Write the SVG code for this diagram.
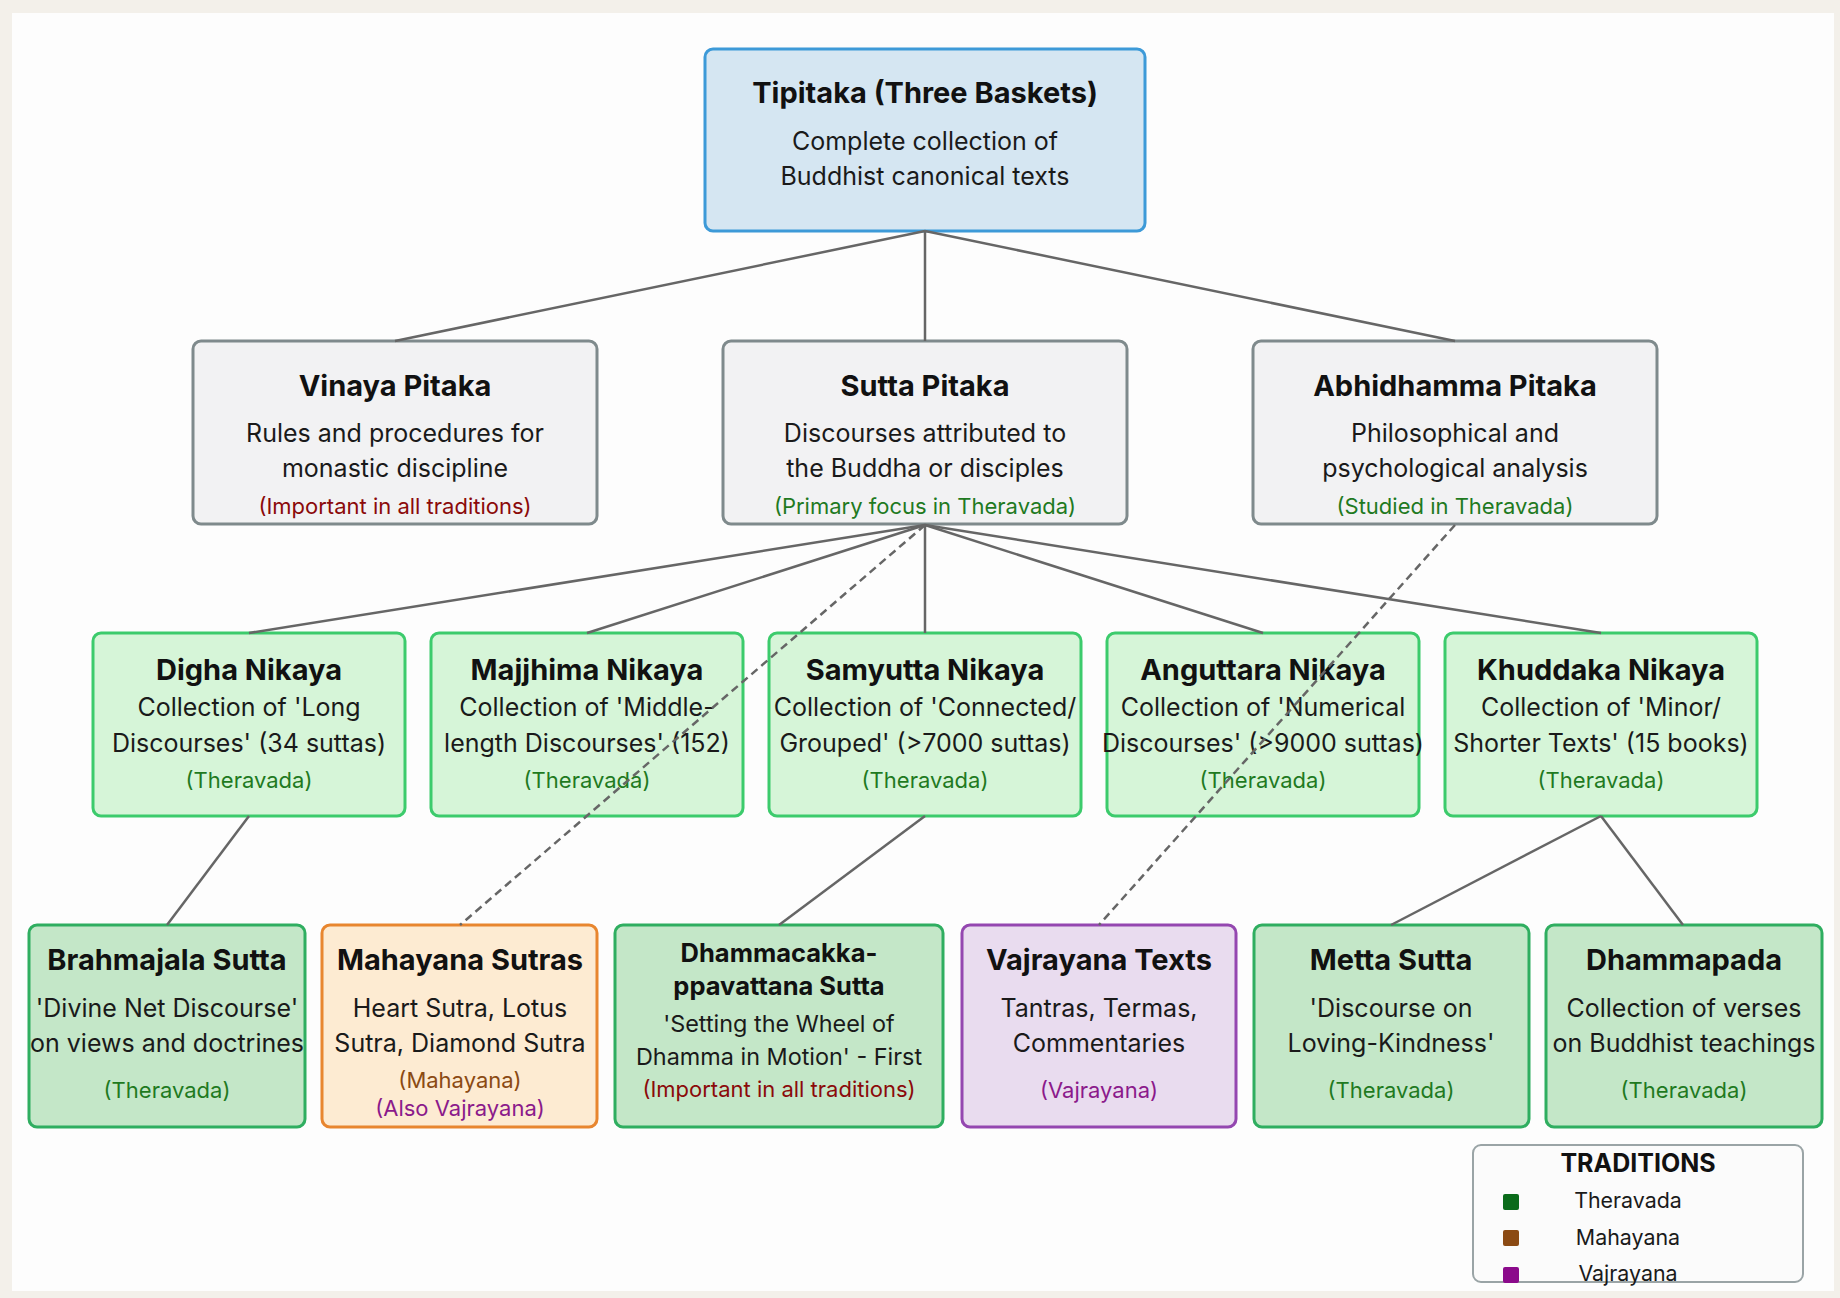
<svg xmlns="http://www.w3.org/2000/svg" width="1840" height="1298" viewBox="0 0 1840 1298">
<style>
text{font-family:Inter,"Noto Sans","Liberation Sans",sans-serif;text-anchor:middle}
.t{font-weight:700;font-size:29px;fill:#111}
.b{font-size:25px;fill:#1a1a1a}
.n{font-size:22px}
.t2{font-weight:700;font-size:25.5px;fill:#111}
.b2{font-size:23.4px;fill:#1a1a1a}
.th{fill:#1f7a1f}
.imp{fill:#8b0a0a}
.ma{fill:#8b4a13}
.va{fill:#8b1a8b}
.root{fill:#d5e6f2;stroke:#3d9ad8;stroke-width:3}
.pit{fill:#f2f2f3;stroke:#7f8a8c;stroke-width:3}
.nik{fill:#d6f5d8;stroke:#3ccb6c;stroke-width:3}
.leaf{fill:#c4e7c8;stroke:#2fae60;stroke-width:3}
.mah{fill:#fdebd2;stroke:#e8862f;stroke-width:3}
.vaj{fill:#e9dcef;stroke:#9447b0;stroke-width:3}
.c{stroke:#666;stroke-width:2.5;fill:none}
.d{stroke:#666;stroke-width:2.5;fill:none;stroke-dasharray:8 5}
</style>
<rect x="0" y="0" width="1840" height="1298" fill="#f3f0ea"/>
<rect x="12" y="13" width="1822" height="1278" fill="#fdfdfd"/>
<g id="tipitaka">
<rect class="root" x="705" y="49" width="440" height="182" rx="8"/>
<text class="t" x="925" y="103">Tipitaka (Three Baskets)</text>
<text class="b" x="925" y="150">Complete collection of</text>
<text class="b" x="925" y="185">Buddhist canonical texts</text>
</g>
<g id="vinaya">
<rect class="pit" x="193" y="341" width="404" height="183" rx="8"/>
<text class="t" x="395" y="396">Vinaya Pitaka</text>
<text class="b" x="395" y="442">Rules and procedures for</text>
<text class="b" x="395" y="477">monastic discipline</text>
<text class="n imp" x="395" y="514">(Important in all traditions)</text>
</g>
<g id="sutta">
<rect class="pit" x="723" y="341" width="404" height="183" rx="8"/>
<text class="t" x="925" y="396">Sutta Pitaka</text>
<text class="b" x="925" y="442">Discourses attributed to</text>
<text class="b" x="925" y="477">the Buddha or disciples</text>
<text class="n th" x="925" y="514">(Primary focus in Theravada)</text>
</g>
<g id="abhidhamma">
<rect class="pit" x="1253" y="341" width="404" height="183" rx="8"/>
<text class="t" x="1455" y="396">Abhidhamma Pitaka</text>
<text class="b" x="1455" y="442">Philosophical and</text>
<text class="b" x="1455" y="477">psychological analysis</text>
<text class="n th" x="1455" y="514">(Studied in Theravada)</text>
</g>
<g id="digha">
<rect class="nik" x="93" y="633" width="312" height="183" rx="8"/>
<text class="t" x="249" y="680">Digha Nikaya</text>
<text class="b" x="249" y="716">Collection of 'Long</text>
<text class="b" x="249" y="752">Discourses' (34 suttas)</text>
<text class="n th" x="249" y="788">(Theravada)</text>
</g>
<g id="majjhima">
<rect class="nik" x="431" y="633" width="312" height="183" rx="8"/>
<text class="t" x="587" y="680">Majjhima Nikaya</text>
<text class="b" x="587" y="716">Collection of 'Middle-</text>
<text class="b" x="587" y="752">length Discourses' (152)</text>
<text class="n th" x="587" y="788">(Theravada)</text>
</g>
<g id="samyutta">
<rect class="nik" x="769" y="633" width="312" height="183" rx="8"/>
<text class="t" x="925" y="680">Samyutta Nikaya</text>
<text class="b" x="925" y="716">Collection of 'Connected/</text>
<text class="b" x="925" y="752">Grouped' (&gt;7000 suttas)</text>
<text class="n th" x="925" y="788">(Theravada)</text>
</g>
<g id="anguttara">
<rect class="nik" x="1107" y="633" width="312" height="183" rx="8"/>
<text class="t" x="1263" y="680">Anguttara Nikaya</text>
<text class="b" x="1263" y="716">Collection of 'Numerical</text>
<text class="b" x="1263" y="752">Discourses' (&gt;9000 suttas)</text>
<text class="n th" x="1263" y="788">(Theravada)</text>
</g>
<g id="khuddaka">
<rect class="nik" x="1445" y="633" width="312" height="183" rx="8"/>
<text class="t" x="1601" y="680">Khuddaka Nikaya</text>
<text class="b" x="1601" y="716">Collection of 'Minor/</text>
<text class="b" x="1601" y="752">Shorter Texts' (15 books)</text>
<text class="n th" x="1601" y="788">(Theravada)</text>
</g>
<g id="brahmajala">
<rect class="leaf" x="29" y="925" width="276" height="202" rx="8"/>
<text class="t" x="167" y="970">Brahmajala Sutta</text>
<text class="b" x="167" y="1017">'Divine Net Discourse'</text>
<text class="b" x="167" y="1052">on views and doctrines</text>
<text class="n th" x="167" y="1098">(Theravada)</text>
</g>
<g id="mahayana">
<rect class="mah" x="322" y="925" width="275" height="202" rx="8"/>
<text class="t" x="460" y="970">Mahayana Sutras</text>
<text class="b" x="460" y="1017">Heart Sutra, Lotus</text>
<text class="b" x="460" y="1052">Sutra, Diamond Sutra</text>
<text class="n ma" x="460" y="1088">(Mahayana)</text>
<text class="n va" x="460" y="1116">(Also Vajrayana)</text>
</g>
<g id="dhammacakka">
<rect class="leaf" x="615" y="925" width="328" height="202" rx="8"/>
<text class="t2" x="779" y="962">Dhammacakka-</text>
<text class="t2" x="779" y="995">ppavattana Sutta</text>
<text class="b2" x="779" y="1032">'Setting the Wheel of</text>
<text class="b2" x="779" y="1065">Dhamma in Motion' - First</text>
<text class="n imp" x="779" y="1097">(Important in all traditions)</text>
</g>
<g id="vajrayana">
<rect class="vaj" x="962" y="925" width="274" height="202" rx="8"/>
<text class="t" x="1099" y="970">Vajrayana Texts</text>
<text class="b" x="1099" y="1017">Tantras, Termas,</text>
<text class="b" x="1099" y="1052">Commentaries</text>
<text class="n va" x="1099" y="1098">(Vajrayana)</text>
</g>
<g id="metta">
<rect class="leaf" x="1254" y="925" width="275" height="202" rx="8"/>
<text class="t" x="1391" y="970">Metta Sutta</text>
<text class="b" x="1391" y="1017">'Discourse on</text>
<text class="b" x="1391" y="1052">Loving-Kindness'</text>
<text class="n th" x="1391" y="1098">(Theravada)</text>
</g>
<g id="dhammapada">
<rect class="leaf" x="1546" y="925" width="276" height="202" rx="8"/>
<text class="t" x="1684" y="970">Dhammapada</text>
<text class="b" x="1684" y="1017">Collection of verses</text>
<text class="b" x="1684" y="1052">on Buddhist teachings</text>
<text class="n th" x="1684" y="1098">(Theravada)</text>
</g>
<g id="connectors">
<line class="c" x1="925" y1="231" x2="395" y2="341"/>
<line class="c" x1="925" y1="231" x2="925" y2="341"/>
<line class="c" x1="925" y1="231" x2="1455" y2="341"/>
<line class="c" x1="925" y1="525" x2="249" y2="633"/>
<line class="c" x1="925" y1="525" x2="587" y2="633"/>
<line class="c" x1="925" y1="525" x2="925" y2="633"/>
<line class="c" x1="925" y1="525" x2="1263" y2="633"/>
<line class="c" x1="925" y1="525" x2="1601" y2="633"/>
<line class="c" x1="249" y1="816" x2="167" y2="925"/>
<line class="c" x1="925" y1="816" x2="779" y2="925"/>
<line class="c" x1="1601" y1="816" x2="1391" y2="925"/>
<line class="c" x1="1601" y1="816" x2="1683" y2="925"/>
<line class="d" x1="925" y1="525" x2="460" y2="925"/>
<line class="d" x1="1455" y1="525" x2="1099" y2="925"/>
</g>
<g id="legend">
<rect x="1473" y="1145" width="330" height="137" rx="8" fill="#fbfbfb" stroke="#9aa4a6" stroke-width="2"/>
<text x="1638" y="1172" style="font-weight:700;font-size:25px;fill:#111">TRADITIONS</text>
<rect x="1503" y="1194" width="16" height="16" rx="2" fill="#0a6b1a"/>
<text x="1628" y="1208" style="font-size:21.4px;fill:#1a1a1a">Theravada</text>
<rect x="1503" y="1230" width="16" height="16" rx="2" fill="#8b4a13"/>
<text x="1628" y="1245" style="font-size:21.4px;fill:#1a1a1a">Mahayana</text>
<rect x="1503" y="1267" width="16" height="16" rx="2" fill="#8b0a8b"/>
<text x="1628" y="1281" style="font-size:21.4px;fill:#1a1a1a">Vajrayana</text>
</g>
</svg>
